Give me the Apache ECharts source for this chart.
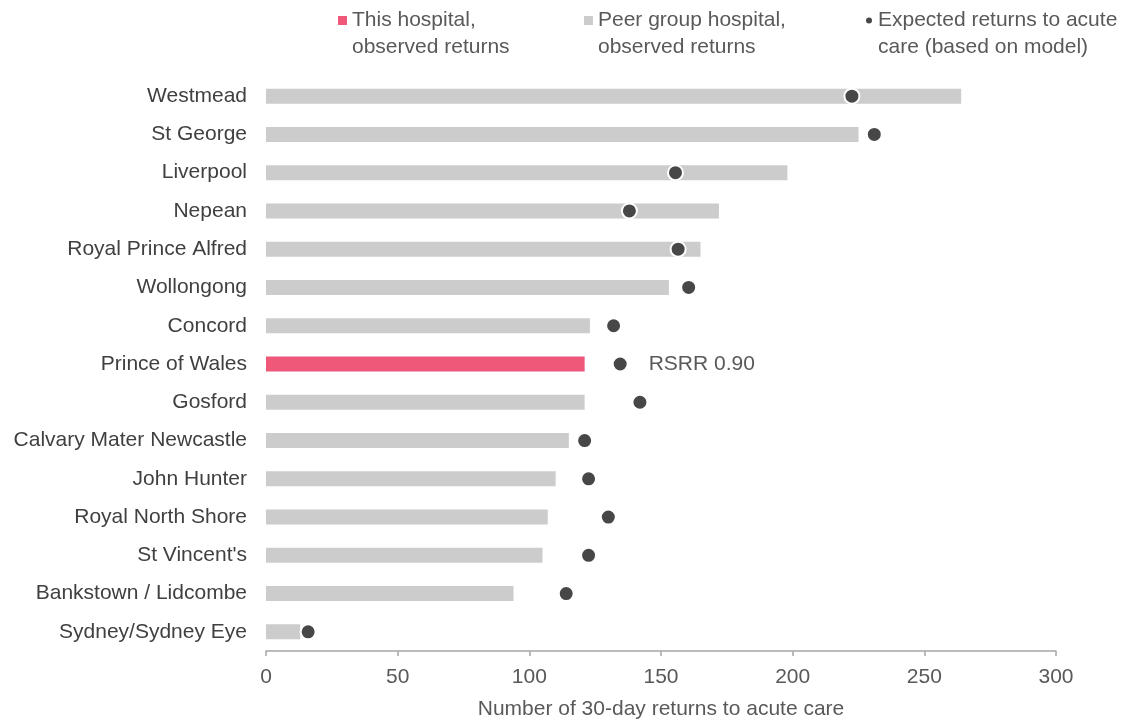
<!DOCTYPE html>
<html><head><meta charset="utf-8">
<script src="https://cdn.jsdelivr.net/npm/echarts@6/dist/echarts.min.js"></script>
<style>html,body{margin:0;padding:0;background:#fff}#c{width:1126px;height:720px}</style>
</head><body><div id="c"></div>
<script>
const hospitals = ["Westmead","St George","Liverpool","Nepean","Royal Prince Alfred","Wollongong","Concord","Prince of Wales","Gosford","Calvary Mater Newcastle","John Hunter","Royal North Shore","St Vincent's","Bankstown / Lidcombe","Sydney/Sydney Eye"];
const observed = [264, 225, 198, 172, 165, 153, 123, 121, 121, 115, 110, 107, 105, 94, 13];
const expected = [222.5, 231, 155.5, 138, 156.5, 160.5, 132, 134.5, 142, 121, 122.5, 130, 122.5, 114, 16];
const thisHospital = "Prince of Wales";
const rsrrLabel = "RSRR 0.90";
const xTicks = [0, 50, 100, 150, 200, 250, 300];

const nThis = "This hospital,\nobserved returns";
const nPeer = "Peer group hospital,\nobserved returns";
const nExp = "Expected returns to acute\ncare (based on model)";
const FONT = "Liberation Sans, Arial, sans-serif";
const txt = "#595959";
const FS = 21;

const thisData = hospitals.map((h,i)=> h===thisHospital ? observed[i] : null);
const peerData = hospitals.map((h,i)=> h===thisHospital ? null : observed[i]);
const expData = hospitals.map((h,i)=> h===thisHospital
  ? {value: expected[i], label:{show:true, position:'right', distance:20, formatter: rsrrLabel, color: txt, fontSize:FS, fontFamily: FONT}}
  : expected[i]);

const legTxt = {color: txt, fontSize: FS, fontFamily: FONT, lineHeight: 27};
function leg(name, left, icon, w, h){
  return {data:[name], left:left, top:-25, icon:icon, itemWidth:w, itemHeight:h, itemGap:4,
          textStyle:legTxt, selectedMode:false, formatter: n => '\n' + n};
}

const chart = echarts.init(document.getElementById('c'), null, {renderer:'canvas'});
chart.setOption({
  animation:false,
  backgroundColor:'#fff',
  legend:[ leg(nThis, 333, 'rect', 9, 9), leg(nPeer, 579, 'rect', 9, 9), leg(nExp, 859, 'circle', 8, 8) ],
  grid:{left:266, right:70, top:77, bottom:69, containLabel:false, outerBoundsMode:'none'},
  xAxis:{type:'value', min:xTicks[0], max:xTicks[xTicks.length-1], interval:50,
    axisLine:{show:true, lineStyle:{color:'#a6a6a6', width:1.5}},
    axisTick:{show:true, length:5, lineStyle:{color:'#a6a6a6', width:1.5}},
    splitLine:{show:false},
    axisLabel:{color:txt, fontSize:FS, fontFamily:FONT, margin:16},
    name:'Number of 30-day returns to acute care', nameLocation:'middle', nameGap:48,
    nameTextStyle:{color:txt, fontSize:FS, fontFamily:FONT}},
  yAxis:{type:'category', data:hospitals, inverse:true,
    axisLine:{show:false}, axisTick:{show:false},
    axisLabel:{color:'#404040', fontSize:FS, fontFamily:FONT, margin:19}},
  series:[
    {name:nThis, type:'bar', data:thisData, barWidth:15, barGap:'-100%', itemStyle:{color:'#F0587A'}},
    {name:nPeer, type:'bar', data:peerData, barWidth:15, barGap:'-100%', itemStyle:{color:'#CCCCCC'}},
    {name:nExp, type:'scatter', data:expData, symbol:'circle', symbolSize:15, z:5,
     itemStyle:{color:'#474747', opacity:1, borderColor:'#fff', borderWidth:2}}
  ]
});
</script></body></html>
